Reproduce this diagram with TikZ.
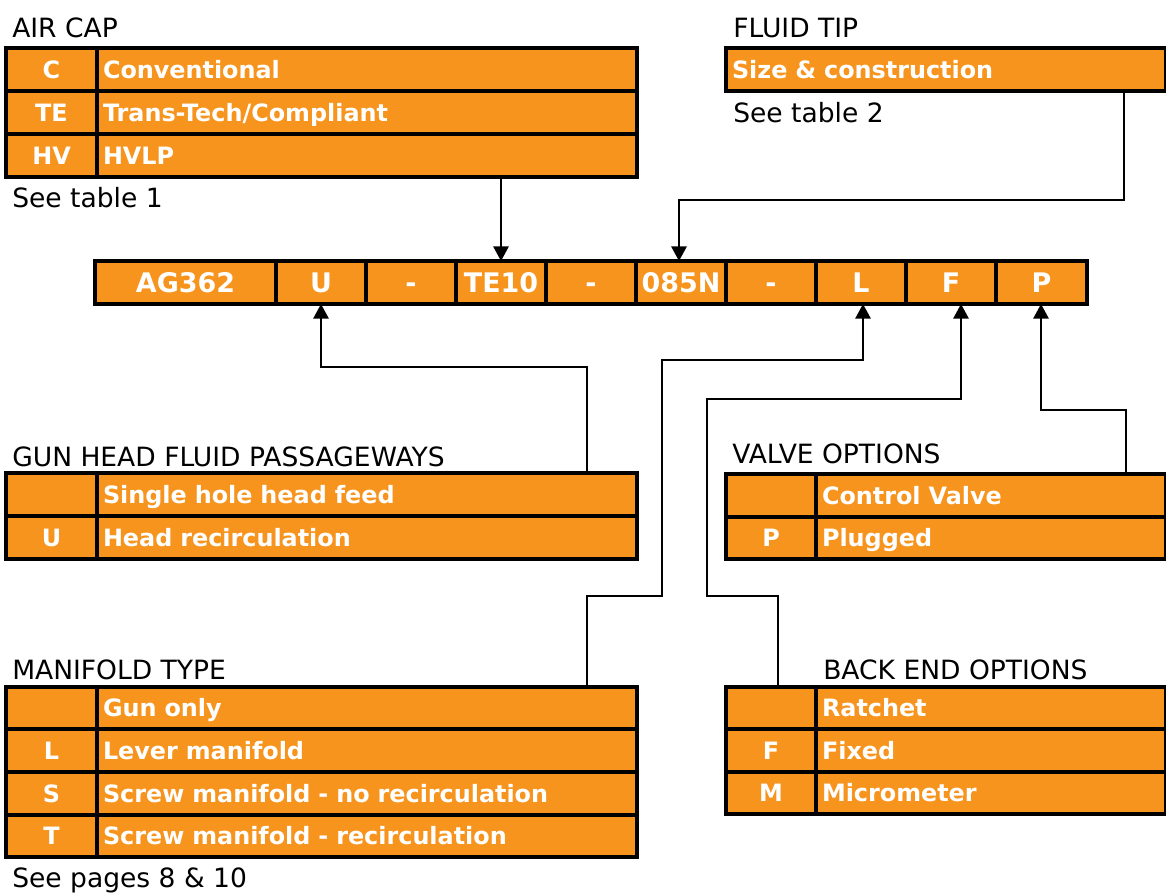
\documentclass[tikz,border=0pt]{standalone}
\usepackage{fontspec}
\setmainfont{DejaVu Sans}
\usetikzlibrary{arrows.meta}
\definecolor{orng}{HTML}{F7941D}
\newcommand\lblfont{\fontsize{19.9}{24}\selectfont}
\newcommand\cellfont{\bfseries\fontsize{17.9}{21}\selectfont}
\newcommand\barfont{\bfseries\fontsize{20.2}{24}\selectfont}
\tikzset{
 box/.style={draw=black, line width=2.9pt, fill=orng, inner sep=0pt, outer sep=0pt,
   text=white, font=\cellfont, text height=13pt, text depth=0pt},
 barcell/.style={box, font=\barfont, text height=14.7pt, minimum height=32.25pt, minimum width=67.5pt},
 lbl/.style={anchor=base west, inner sep=0pt, font=\lblfont},
 conn/.style={line width=1.5pt, -{Triangle[length=11pt,width=11.5pt]}},
}
% \optrow{name}{x0}{x1}{x2}{y0}{y1}{code}{desc}
\newcommand\optrow[8]{%
 \pgfmathsetmacro\cwA{(#3-#2)*0.75}%
 \pgfmathsetmacro\cwB{(#4-#3)*0.75}%
 \pgfmathsetmacro\twB{(#4-#3-12)*0.75}%
 \pgfmathsetmacro\rh{(#6-#5)*0.75}%
 \node[box, minimum width=\cwA pt, minimum height=\rh pt] (#1c) at ({(#2+#3)/2},{(#5+#6)/2}) {#7};
 \node[box, minimum width=\cwB pt, minimum height=\rh pt, text width=\twB pt, align=left] (#1d) at ({(#3+#4)/2},{(#5+#6)/2}) {#8};
}
\begin{document}
\begin{tikzpicture}[x=0.75pt,y=-0.75pt]
\useasboundingbox (0,0) rectangle (1166,893);

% AIR CAP
\node[lbl] (tAC) at (12,37) {AIR CAP};
\optrow{ac1}{6}{97}{637}{48}{91}{C}{Conventional}
\optrow{ac2}{6}{97}{637}{91}{134}{TE}{Trans-Tech/Compliant}
\optrow{ac3}{6}{97}{637}{134}{177}{HV}{HVLP}
\node[lbl] (sAC) at (12,207) {See table 1};

% FLUID TIP
\node[lbl] (tFT) at (733,37) {FLUID TIP};
\node[box, minimum width=330pt, minimum height=32.25pt, text width=321pt, align=left] (ft) at (946,69.5) {Size \& construction};
\node[lbl] (sFT) at (733,122) {See table 2};

% code bar
\node[barcell, minimum width=135.75pt] (bAG) at (185.5,282.5) {AG362};
\node[barcell] (bU) at (321,282.5) {U};
\node[barcell] (bD1) at (411,282.5) {-};
\node[barcell] (bTE) at (501,282.5) {TE10};
\node[barcell] (bD2) at (591,282.5) {-};
\node[barcell] (bTip) at (681,282.5) {085N};
\node[barcell] (bD3) at (771,282.5) {-};
\node[barcell] (bL) at (861,282.5) {L};
\node[barcell] (bF) at (951,282.5) {F};
\node[barcell, minimum width=68.25pt] (bP) at (1041.5,282.5) {P};

% GUN HEAD
\node[lbl] (tGH) at (12,466) {GUN HEAD FLUID PASSAGEWAYS};
\optrow{gh1}{6}{97}{637}{473}{516}{}{Single hole head feed}
\optrow{gh2}{6}{97}{637}{516}{559}{U}{Head recirculation}

% VALVE
\node[lbl] (tVO) at (732,463) {VALVE OPTIONS};
\optrow{vo1}{726}{816}{1166}{474}{517}{}{Control Valve}
\optrow{vo2}{726}{816}{1166}{517}{559}{P}{Plugged}

% MANIFOLD
\node[lbl] (tMF) at (12,679) {MANIFOLD TYPE};
\optrow{mf1}{6}{97}{637}{687}{729}{}{Gun only}
\optrow{mf2}{6}{97}{637}{729}{772}{L}{Lever manifold}
\optrow{mf3}{6}{97}{637}{772}{815}{S}{Screw manifold - no recirculation}
\optrow{mf4}{6}{97}{637}{815}{857}{T}{Screw manifold - recirculation}
\node[lbl] (sMF) at (12,887) {See pages 8 \& 10};

% BACK END
\node[lbl] (tBE) at (823,679) {BACK END OPTIONS};
\optrow{be1}{726}{816}{1166}{687}{729}{}{Ratchet}
\optrow{be2}{726}{816}{1166}{729}{772}{F}{Fixed}
\optrow{be3}{726}{816}{1166}{772}{814}{M}{Micrometer}

% connectors
\coordinate (ftk) at (1124,200);
\coordinate (uk) at (587,367);
\coordinate (lk1) at (587,596);
\coordinate (lk2) at (662,360);
\coordinate (fk1) at (778,596);
\coordinate (fk2) at (707,399);
\coordinate (pk) at (1126,410);
\coordinate (pa) at (1041,304);

\draw[conn] (bTE.north |- ac3d.south) -- (bTE.north);
\draw[conn] (ft.south -| ftk) -- (ftk) -| ([xshift=-1.5pt]bTip.north);
\draw[conn] (gh1d.north -| uk) -- (uk) -| (bU.south);
\draw[conn] (mf1d.north -| lk1) -- (lk1) -| (lk2) -| ([xshift=1.5pt]bL.south);
\draw[conn] (be1d.north -| fk1) -- (fk1) -| (fk2) -| ([xshift=7.5pt]bF.south);
\draw[conn] (vo1d.north -| pk) -- (pk) -| (pa);
\end{tikzpicture}
\end{document}
